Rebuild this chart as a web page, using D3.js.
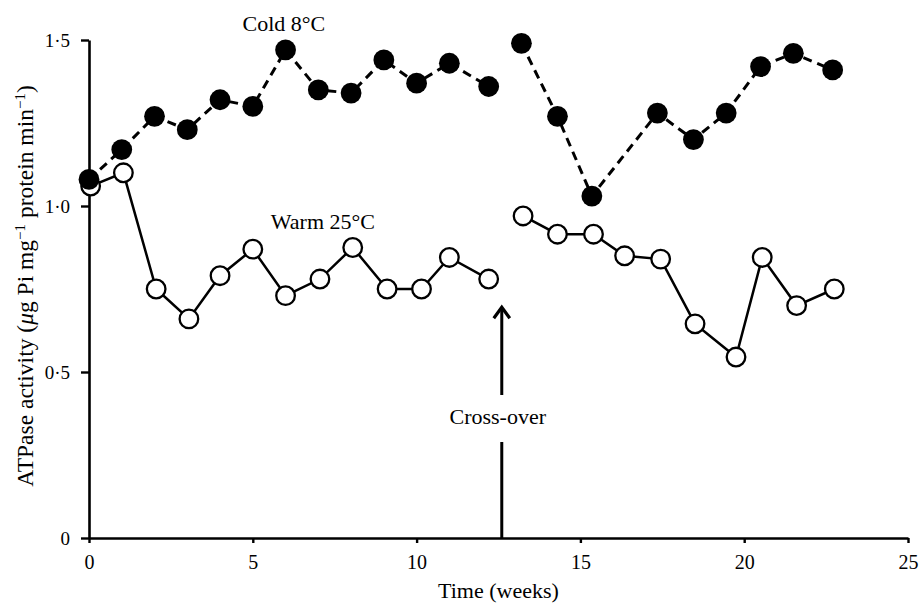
<!DOCTYPE html>
<html><head><meta charset="utf-8">
<script src="https://cdn.jsdelivr.net/npm/d3@7"></script>
<style>
html,body{margin:0;padding:0;background:#fff;}
text{font-family:"Liberation Serif","Times New Roman",serif;fill:#000;}
</style></head>
<body><svg id="chart" width="923" height="607"></svg>
<script>
// ---- data ----
const coldWeeksBefore = [0, 1, 2, 3, 4, 5, 6, 7, 8, 9, 10, 11, 12.2];
const coldValuesBefore = [1.08, 1.17, 1.27, 1.23, 1.32, 1.30, 1.47, 1.35, 1.34, 1.44, 1.37, 1.43, 1.36];
const coldWeeksAfter = [13.2, 14.3, 15.35, 17.35, 18.45, 19.45, 20.5, 21.5, 22.7];
const coldValuesAfter = [1.49, 1.27, 1.03, 1.28, 1.20, 1.28, 1.42, 1.46, 1.41];
const warmWeeksBefore = [0.05, 1.05, 2.05, 3.05, 4, 5, 6, 7.05, 8.05, 9.1, 10.15, 11, 12.2];
const warmValuesBefore = [1.06, 1.10, 0.75, 0.66, 0.79, 0.87, 0.73, 0.78, 0.875, 0.75, 0.75, 0.845, 0.78];
const warmWeeksAfter = [13.25, 14.3, 15.4, 16.35, 17.45, 18.5, 19.75, 20.55, 21.6, 22.75];
const warmValuesAfter = [0.97, 0.915, 0.915, 0.85, 0.84, 0.645, 0.545, 0.845, 0.70, 0.75];
const xTicks = [0, 5, 10, 15, 20, 25];
const yTicks = [0, 0.5, 1.0, 1.5];
const yTickLabels = ["0", "0·5", "1·0", "1·5"];
const crossOverWeek = 12.6;
const crossOverArrowTip = 0.695;
const labels = [
  {text: "Cold 8\u00B0C", week: 5.95, value: 1.527},
  {text: "Warm 25\u00B0C", week: 7.14, value: 0.932}
];

// ---- layout ----
const W = 923, H = 607;
const margin = {left: 89, right: 15, top: 40, bottom: 69};
const svg = d3.select("#chart");
const x = d3.scaleLinear().domain([0, 25]).range([margin.left, W - margin.right]);
const y = d3.scaleLinear().domain([0, 1.5]).range([H - margin.bottom, margin.top]);

// axes
const xAxis = svg.append("g").attr("transform", `translate(0,${y(0)})`)
  .call(d3.axisBottom(x).tickValues(xTicks).tickSize(5).tickSizeOuter(0).tickPadding(12).tickFormat(d3.format("d")));
const yAxis = svg.append("g").attr("transform", `translate(${x(0)},0)`)
  .call(d3.axisLeft(y).tickValues(yTicks).tickSize(8).tickSizeOuter(0).tickPadding(11)
    .tickFormat((d, i) => yTickLabels[i]));
[xAxis, yAxis].forEach(g => {
  g.select(".domain").attr("stroke", "#000").attr("stroke-width", 2.6);
  g.selectAll(".tick line").attr("stroke", "#000").attr("stroke-width", 2.4);
  g.selectAll(".tick text").attr("font-family", "Liberation Serif");
});
xAxis.selectAll(".tick text").attr("font-size", 20);
yAxis.selectAll(".tick text").attr("font-size", 19);

// axis titles
svg.append("text").attr("x", (x(0) + x(25)) / 2).attr("y", 598)
  .attr("text-anchor", "middle").attr("font-size", 22).text("Time (weeks)");
const yt = svg.append("text")
  .attr("transform", `translate(33,286) rotate(-90)`)
  .attr("text-anchor", "middle").attr("font-size", 23.5);
yt.append("tspan").text("ATPase activity (");
yt.append("tspan").attr("font-style", "italic").text("\u03BC");
yt.append("tspan").text("g Pi mg");
yt.append("tspan").attr("dy", -8).attr("font-size", 15).text("\u22121");
yt.append("tspan").attr("dy", 8).text("  protein min");
yt.append("tspan").attr("dy", -8).attr("font-size", 15).text("\u22121");
yt.append("tspan").attr("dy", 8).text(")");

// lines
const line = d3.line().x(d => x(d[0])).y(d => y(d[1]));
const zip = (a, b) => a.map((v, i) => [v, b[i]]);
const coldSets = [zip(coldWeeksBefore, coldValuesBefore), zip(coldWeeksAfter, coldValuesAfter)];
const warmSets = [zip(warmWeeksBefore, warmValuesBefore), zip(warmWeeksAfter, warmValuesAfter)];

warmSets.forEach(s => svg.append("path").datum(s).attr("d", line)
  .attr("fill", "none").attr("stroke", "#000").attr("stroke-width", 2.5));
coldSets.forEach(s => svg.append("path").datum(s).attr("d", line)
  .attr("fill", "none").attr("stroke", "#000").attr("stroke-width", 3)
  .attr("stroke-dasharray", "9,6"));

warmSets.forEach(s => svg.append("g").selectAll("circle").data(s).join("circle")
  .attr("cx", d => x(d[0])).attr("cy", d => y(d[1])).attr("r", 9.3)
  .attr("fill", "#fff").attr("stroke", "#000").attr("stroke-width", 2.3));
coldSets.forEach(s => svg.append("g").selectAll("circle").data(s).join("circle")
  .attr("cx", d => x(d[0])).attr("cy", d => y(d[1])).attr("r", 10.4)
  .attr("fill", "#000"));

// series labels
labels.forEach(l => svg.append("text").attr("x", x(l.week)).attr("y", y(l.value))
  .attr("text-anchor", "middle").attr("font-size", 22).text(l.text));

// cross-over arrow
const ax = x(crossOverWeek);
const textY = 424;
svg.append("text").attr("x", ax - 4).attr("y", textY).attr("text-anchor", "middle")
  .attr("font-size", 22).text("Cross-over");
svg.append("line").attr("x1", ax).attr("x2", ax).attr("y1", y(0)).attr("y2", textY + 18)
  .attr("stroke", "#000").attr("stroke-width", 3);
const tipY = y(crossOverArrowTip);
svg.append("line").attr("x1", ax).attr("x2", ax).attr("y1", textY - 29).attr("y2", tipY + 2)
  .attr("stroke", "#000").attr("stroke-width", 3);
svg.append("path").attr("d", `M${ax - 8},${tipY + 11} L${ax},${tipY} L${ax + 8},${tipY + 11}`)
  .attr("fill", "none").attr("stroke", "#000").attr("stroke-width", 3.2).attr("stroke-linejoin", "miter");
</script></body></html>
